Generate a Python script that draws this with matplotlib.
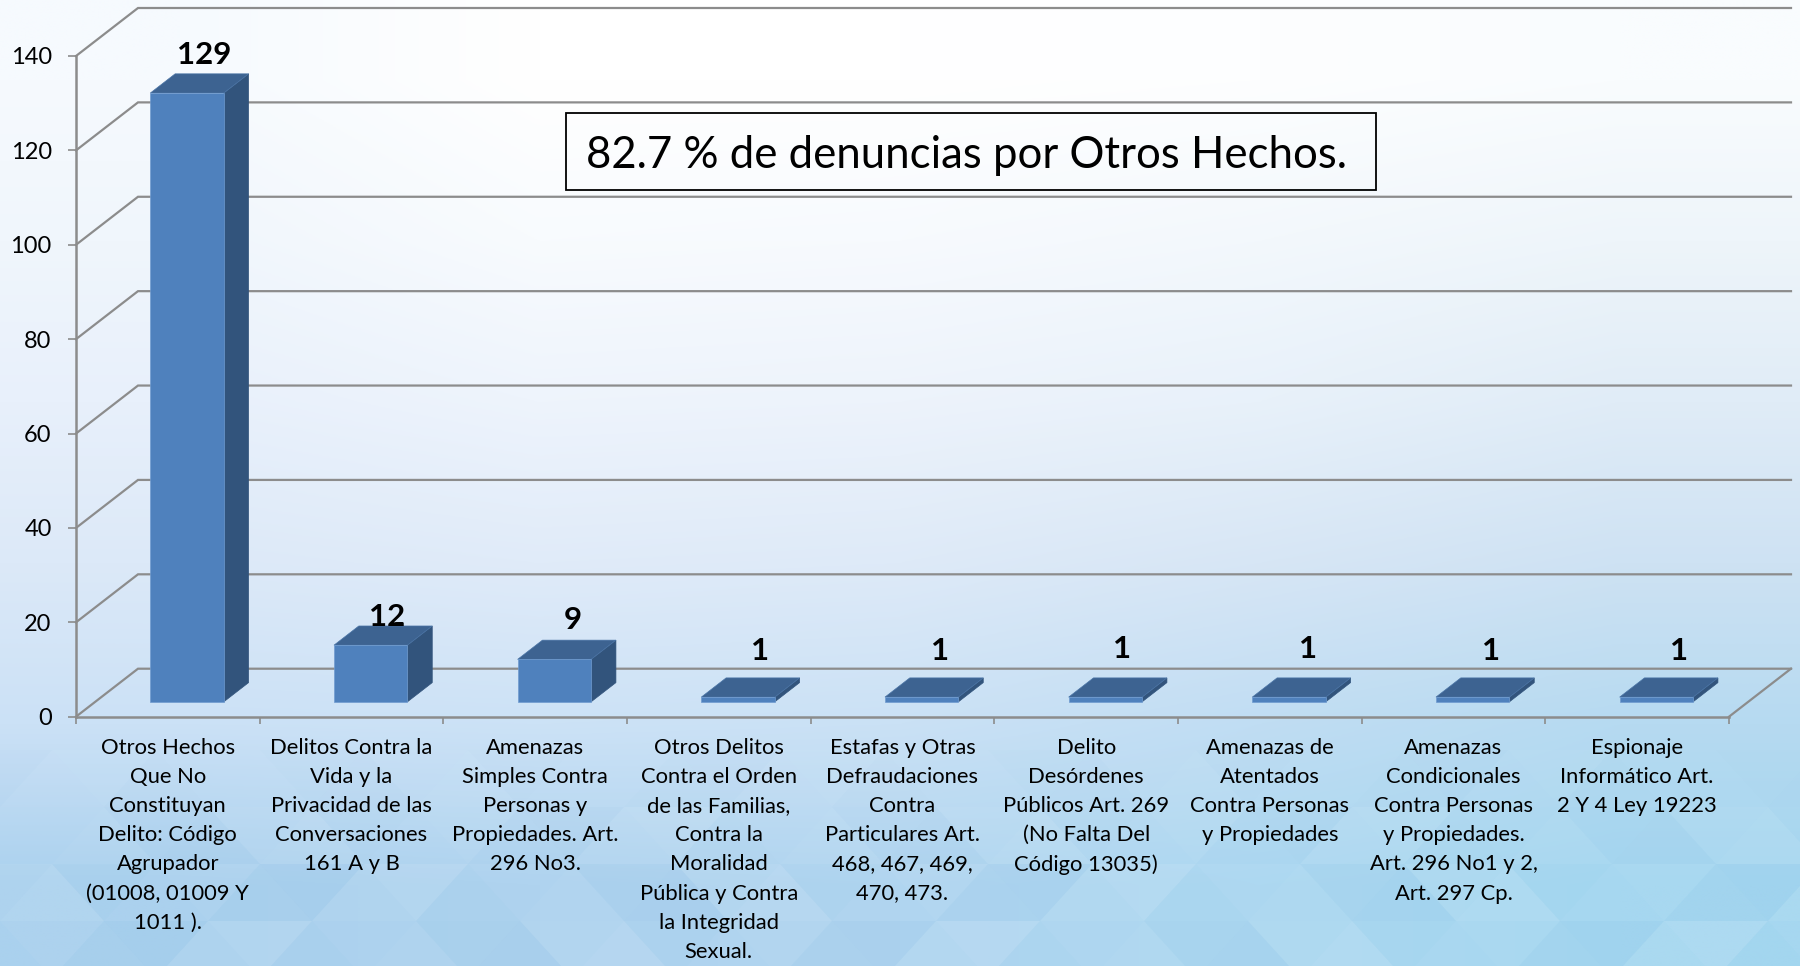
import numpy as np
import matplotlib
matplotlib.use("Agg")
import matplotlib.pyplot as plt
from matplotlib.patches import Polygon, Rectangle

plt.rcParams['font.family'] = ['Lato', 'DejaVu Sans']

# chart data
categories = [
    "Otros Hechos\nQue No\nConstituyan\nDelito: Código\nAgrupador\n(01008, 01009 Y\n1011 ).",
    "Delitos Contra la\nVida y la\nPrivacidad de las\nConversaciones\n161 A y B",
    "Amenazas\nSimples Contra\nPersonas y\nPropiedades. Art.\n296 No3.",
    "Otros Delitos\nContra el Orden\nde las Familias,\nContra la\nMoralidad\nPública y Contra\nla Integridad\nSexual.",
    "Estafas y Otras\nDefraudaciones\nContra\nParticulares Art.\n468, 467, 469,\n470, 473.",
    "Delito\nDesórdenes\nPúblicos Art. 269\n(No Falta Del\nCódigo 13035)",
    "Amenazas de\nAtentados\nContra Personas\ny Propiedades",
    "Amenazas\nCondicionales\nContra Personas\ny Propiedades.\nArt. 296 No1 y 2,\nArt. 297 Cp.",
    "Espionaje\nInformático Art.\n2 Y 4 Ley 19223",
]
values = [129, 12, 9, 1, 1, 1, 1, 1, 1]
y_ticks = [0, 20, 40, 60, 80, 100, 120, 140]
note = "82.7 % de denuncias por Otros Hechos."

# where each value label sits from the top of its bar, in pixels
label_nudge = [(36, 53), (36, 43), (38, 54), (41, 61), (38, 61), (36, 63), (38, 63), (38, 61), (42, 61)]

GREY = "#8c8c8c"
FRONT = "#4f81bd"
TOP = "#3d6391"
SIDE = "#32547c"
W, H = 1800, 966

fig = plt.figure(figsize=(W / 100, H / 100), dpi=100)

# background: soft gradient plus a faint triangle pattern at the bottom
bg = fig.add_axes([0, 0, 1, 1], zorder=0)
bg.set_xlim(0, W)
bg.set_ylim(H, 0)
bg.axis("off")
grad = np.array([
    [[246, 250, 254], [255, 255, 255], [255, 255, 255], [253, 254, 255], [249, 252, 254]],
    [[240, 246, 252], [248, 251, 254], [247, 250, 254], [243, 248, 252], [238, 245, 250]],
    [[232, 240, 251], [238, 244, 252], [237, 243, 251], [232, 241, 250], [224, 236, 247]],
    [[220, 233, 248], [224, 235, 249], [222, 234, 248], [215, 230, 245], [206, 226, 243]],
    [[203, 225, 246], [204, 226, 246], [202, 225, 245], [192, 221, 243], [182, 218, 241]],
    [[170, 209, 238], [174, 211, 239], [176, 213, 240], [172, 216, 241], [165, 215, 240]],
]) / 255.0
bg.imshow(grad, extent=[0, W, H, 0], aspect="auto", interpolation="bilinear")
shades = [("white", 0.06), ("#5f9fd0", 0.04), ("white", 0.02), ("white", 0.09), ("#5f9fd0", 0.06), ("white", 0.04), ("#5f9fd0", 0.015)]
half_base = 52
row_h = 57
for row, top in enumerate(range(750, H, row_h)):
    for i in range(-1, 2 * W // (2 * half_base) + 2):
        x = i * half_base + (row % 2) * half_base
        if i % 2 == 0:
            pts = [(x, top + row_h), (x + half_base, top), (x + 2 * half_base, top + row_h)]
        else:
            pts = [(x, top), (x + half_base, top + row_h), (x + 2 * half_base, top)]
        c, a = shades[(i * 3 + row * 5) % len(shades)]
        bg.add_patch(Polygon(pts, closed=True, fc=c, ec="none", alpha=a * min(1, (row + 1) / 3)))

# chart axes sit on the front plane of the 3d box
x0, x1 = 76, 1729
y_top, y_base = 56, 716.7
ax = fig.add_axes([x0 / W, (H - y_base) / H, (x1 - x0) / W, (y_base - y_top) / H], zorder=1)
ax.patch.set_alpha(0)
ax.set_xlim(0, 9)
ax.set_ylim(0, 140)

DX = 62 / ((x1 - x0) / 9)
DY = 48 / ((y_base - y_top) / 140)


def depth(x, y, d):
    return x + d * DX, y + d * DY


# gridlines on side wall and back wall
for t in y_ticks:
    xa, ya = depth(0, t, 1)
    ax.plot([0, xa, 9 + DX], [t, ya, ya], color=GREY, lw=1.6, clip_on=False, zorder=1, solid_joinstyle="miter")
ax.plot([9, 9 + DX], [0, DY], color=GREY, lw=1.6, clip_on=False, zorder=1)

# boxes
bar_w = 0.40
for i, v in enumerate(values):
    l = i + 0.5 - bar_w / 2
    r = l + bar_w
    fl = depth(l, 0, 0.31)
    fr = depth(r, 0, 0.31)
    tl = depth(l, v, 0.31)
    tr = depth(r, v, 0.31)
    bl = depth(l, v, 0.71)
    br = depth(r, v, 0.71)
    sb = depth(r, 0, 0.71)
    kw = dict(closed=True, clip_on=False, zorder=3, lw=0.5)
    ax.add_patch(Polygon([fr, sb, br, tr], fc=SIDE, ec=SIDE, **kw))
    ax.add_patch(Polygon([tl, tr, br, bl], fc=TOP, ec="#4a74a6", **kw))
    ax.add_patch(Polygon([fl, fr, tr, tl], fc=FRONT, ec="#6f9bd0", **kw))
    ax.annotate(str(v), xy=(i + 0.5, v), xytext=label_nudge[i], textcoords="offset pixels",
                ha="center", va="center", fontsize=22.5, fontweight="bold", color="black",
                annotation_clip=False, zorder=5)

# axes lines and ticks
for s in ["top", "right"]:
    ax.spines[s].set_visible(False)
for s in ["left", "bottom"]:
    ax.spines[s].set_color(GREY)
    ax.spines[s].set_linewidth(1.8)
    ax.spines[s].set_zorder(2)
ax.set_yticks(y_ticks)
ax.tick_params(axis="y", length=5.5, width=1.2, color=GREY, labelsize=17, pad=12, labelcolor="black")
ax.set_xticks(range(10))
ax.set_xticklabels([])
ax.tick_params(axis="x", which="major", length=5, width=1.2, color=GREY)
ax.set_xticks(np.arange(9) + 0.5, categories, minor=True)
ax.tick_params(axis="x", which="minor", length=0, pad=15, labelsize=15.8, labelcolor="black")
for lab in ax.get_xticklabels(minor=True):
    lab.set_linespacing(1.575)
    lab.set_ha("center")
    lab.set_va("top")

# note box
bg2 = fig.add_axes([0, 0, 1, 1], zorder=2)
bg2.set_xlim(0, W)
bg2.set_ylim(H, 0)
bg2.axis("off")
bg2.add_patch(Rectangle((566, 113), 810, 77, fc="none", ec="black", lw=1.3))
bg2.text(966, 155, note, ha="center", va="center", fontsize=31.5, color="black")

fig.savefig("out.png", dpi=100)
